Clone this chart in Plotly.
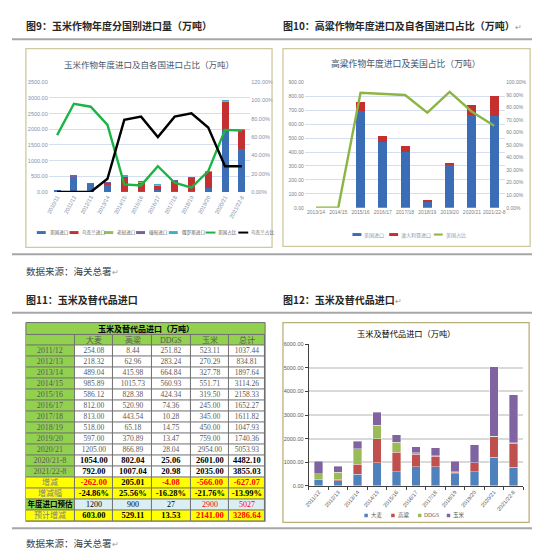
import plotly.graph_objects as go

W, H = 540, 550

# ---------------- 图9 玉米分国别进口 ----------------
corn_years = ["2010/11", "2011/12", "2012/13", "2013/14", "2014/15", "2015/16",
              "2016/17", "2017/18", "2018/19", "2019/20", "2020/21", "2021/22-8"]
us_corn = [53, 500, 260, 221, 32, 20, 70, 30, 25, 140, 2000, 1370]
ukr_corn = [0, 0, 0, 60, 460, 290, 140, 320, 420, 500, 890, 600]
laos_corn = [0, 3, 2, 10, 5, 3, 25, 5, 5, 8, 10, 5]
myanmar_corn = [0, 2, 2, 4, 5, 3, 5, 3, 3, 3, 5, 4]
russia_corn = [0, 0, 0, 0, 4, 0, 2, 0, 0, 3, 5, 3]
us_corn_share = [0.622, 0.965, 0.932, 0.734, 0.083, 0.072, 0.282, 0.101, 0.047, 0.228, 0.679, 0.672]
ukr_corn_share = [0, 0, 0, 0.145, 0.788, 0.824, 0.60, 0.824, 0.86, 0.705, 0.282, 0.282]

# ---------------- 图10 高粱 ----------------
sorghum_years = ["2013/14", "2014/15", "2015/16", "2016/17", "2017/18",
                 "2018/19", "2019/20", "2020/21", "2021/22-8"]
us_sorghum = [0, 0, 695, 470, 400, 47, 312, 663, 658]
aus_sorghum = [0, 0, 62, 47, 42, 9, 8, 75, 141]
us_sorghum_share = [0, 0, 0.916, 0.905, 0.898, 0.757, 0.924, 0.765, 0.653]

# ---------------- 图11/12 玉米及替代品 ----------------
sub_years = ["2011/12", "2012/13", "2013/14", "2014/15", "2015/16", "2016/17",
             "2017/18", "2018/19", "2019/20", "2020/21", "2020/21-8", "2021/22-8"]
barley = [254.08, 218.32, 489.04, 985.89, 586.12, 812.00, 813.00, 518.00, 597.00, 1205.00, 1054.00, 792.00]
sorghum = [8.44, 62.96, 415.98, 1015.73, 828.38, 520.90, 443.54, 65.18, 370.89, 866.89, 802.04, 1007.04]
ddgs = [251.82, 283.24, 664.84, 560.93, 424.34, 74.36, 10.28, 14.75, 13.47, 28.04, 25.06, 20.98]
corn = [523.11, 270.29, 327.78, 551.71, 319.50, 245.00, 345.00, 450.00, 759.00, 2954.00, 2601.00, 2035.00]
total = [1037.44, 834.81, 1897.64, 3114.26, 2158.33, 1652.27, 1611.82, 1047.93, 1740.36, 5053.93, 4482.10, 3855.03]
change_abs = [-262.00, 205.01, -4.08, -566.00, -627.07]
change_pct = [-24.86, 25.56, -16.28, -21.76, -13.99]
forecast = [1200, 900, 27, 2900, 5027]
forecast_change = [603.00, 529.11, 13.53, 2141.00, 3286.64]
extra_rows = ["增减", "增减幅", "年度进口预估", "预计增减"]
col_names = ["大麦", "高粱", "DDGS", "玉米", "总计"]


def px(x):
    return x / W


def py(y):
    return 1 - y / H


CJK = "Noto Sans CJK SC"
TICK = "Liberation Sans Narrow, Liberation Sans, " + CJK
SERIF = "Liberation Serif, " + CJK

fig = go.Figure()

# ---- chart 1 bars + lines
c1 = [("美国进口", us_corn, "#3d6fb6"), ("乌克兰进口", ukr_corn, "#c4302f"),
      ("老挝进口", laos_corn, "#9bbb59"), ("缅甸进口", myanmar_corn, "#7a5ea3"),
      ("俄罗斯进口", russia_corn, "#3fb0cc")]
for name, vals, col in c1:
    fig.add_trace(go.Bar(x=corn_years, y=vals, name=name, marker_color=col,
                         marker_line_width=0, width=0.42, xaxis="x", yaxis="y"))
fig.add_trace(go.Scatter(x=corn_years, y=us_corn_share, name="美国占比", mode="lines",
                         line=dict(color="#1db446", width=2.4), xaxis="x", yaxis="y2"))
fig.add_trace(go.Scatter(x=corn_years, y=ukr_corn_share, name="乌克兰占比", mode="lines",
                         line=dict(color="#000000", width=2.4), xaxis="x", yaxis="y2"))

# ---- chart 2
fig.add_trace(go.Bar(x=sorghum_years, y=us_sorghum, name="美国进口", marker_color="#3a6db5",
                     marker_line_width=0, width=0.4, xaxis="x3", yaxis="y3"))
fig.add_trace(go.Bar(x=sorghum_years, y=aus_sorghum, name="澳大利亚进口", marker_color="#c4302f",
                     marker_line_width=0, width=0.4, xaxis="x3", yaxis="y3"))
fig.add_trace(go.Scatter(x=sorghum_years, y=us_sorghum_share, name="美国占比", mode="lines",
                         line=dict(color="#8db543", width=2.4), xaxis="x3", yaxis="y4"))

# ---- chart 4 (stacked, skip 2020/21-8 row)
idx = [0, 1, 2, 3, 4, 5, 6, 7, 8, 9, 11]
c4_x = [sub_years[i] for i in idx]
for name, vals, col in [("大麦", barley, "#4f81bd"), ("高粱", sorghum, "#c0504d"),
                        ("DDGS", ddgs, "#9bbb59"), ("玉米", corn, "#8064a2")]:
    fig.add_trace(go.Bar(x=c4_x, y=[vals[i] for i in idx], name=name, marker_color=col,
                         marker_line=dict(color="rgba(255,255,255,0.6)", width=0.6),
                         width=0.45, xaxis="x5", yaxis="y5"))


# ---- table 11, drawn as a heatmap grid (gaps show the grey rule lines)
def cell(s, color="#595959", bold=False, size=7.5):
    t = "<span style='color:%s;font-size:%spx'>%s</span>" % (color, size, s)
    return "<b>%s</b>" % t if bold else t


WHITE, GREEN, YELLOW, BLUE = 0, 1, 2, 3
z = [[GREEN] * 6]
txt = [[""] + [cell(c, size=8) for c in col_names]]
cols_vals = [barley, sorghum, ddgs, corn, total]
for i, yr in enumerate(sub_years):
    bold = i >= 10
    row = [cell(yr, size=8)]
    for vals in cols_vals:
        row.append(cell("%.2f" % vals[i], "#000000" if bold else "#595959", bold,
                        8.5 if bold else 7.5))
    txt.append(row)
    z.append([GREEN] + [WHITE] * 5)
# 增减
txt.append([cell(extra_rows[0], "#7f7f7f", size=8)] +
           [cell("%.2f" % v, "#ff0000" if v < 0 else "#000000", True, 8.5) for v in change_abs])
z.append([YELLOW] * 6)
# 增减幅
txt.append([cell(extra_rows[1], "#7f7f7f", size=8)] +
           [cell("%.2f%%" % v, "#000000", True, 8.5) for v in change_pct])
z.append([YELLOW] * 6)
# 年度进口预估
txt.append([cell(extra_rows[2], "#000000", True, 7.5)] +
           [cell(str(v), "#ff0000" if j >= 3 else "#000000", False, 8)
            for j, v in enumerate(forecast)])
z.append([GREEN] + [BLUE] * 5)
# 预计增减
txt.append([cell(extra_rows[3], "#7f7f7f", size=8)] +
           [cell("%.2f" % v, "#ff0000" if j >= 3 else "#000000", True, 8.5)
            for j, v in enumerate(forecast_change)])
z.append([YELLOW] * 6)

col_edges = [0, 49, 88, 127, 166, 205, 241]
row_edges = list(range(len(z) + 1))
fig.add_trace(go.Heatmap(
    x=col_edges, y=row_edges, z=z, text=txt, texttemplate="%{text}",
    textfont=dict(family=SERIF, size=7.5, color="#595959"),
    colorscale=[[0, "#ffffff"], [0.25, "#ffffff"], [0.25, "#92d050"], [0.5, "#92d050"],
                [0.5, "#ffff00"], [0.75, "#ffff00"], [0.75, "#daeef3"], [1, "#daeef3"]],
    zmin=-0.5, zmax=3.5, showscale=False, xgap=1, ygap=1, hoverinfo="skip",
    xaxis="x6", yaxis="y6"))

tick_c1 = dict(family=TICK, size=5.5, color="#7f8fab")
tick_c2 = dict(family=TICK, size=5, color="#7f7f7f")
tick_c4 = dict(family=TICK, size=5.5, color="#595959")

fig.update_layout(
    width=W, height=H, margin=dict(l=0, r=0, t=0, b=0),
    paper_bgcolor="white", plot_bgcolor="rgba(0,0,0,0)",
    barmode="stack", showlegend=False,
    font=dict(family=CJK),
    xaxis=dict(domain=[px(37), px(240)], anchor="y", type="category", tickangle=-62,
               tickfont=tick_c1, showgrid=False, showline=False, ticks=""),
    yaxis=dict(domain=[py(183), py(72)], anchor="x", range=[0, 3500], dtick=500,
               tickformat=".2f", tickfont=tick_c1, gridcolor="#d6dfef", gridwidth=1,
               zeroline=False, showline=False),
    yaxis2=dict(overlaying="y", anchor="x", side="right", range=[0, 1.2], dtick=0.2,
                tickformat=".2%", tickfont=tick_c1, showgrid=False, zeroline=False),
    xaxis3=dict(domain=[px(295), px(497)], anchor="y3", type="category", tickangle=0,
                tickfont=tick_c2, showgrid=False, showline=False, ticks=""),
    yaxis3=dict(domain=[py(199), py(72)], anchor="x3", range=[0, 900], dtick=100,
                tickformat=".2f", tickfont=tick_c2, gridcolor="#d6dfef", gridwidth=1,
                zeroline=False, showline=False),
    yaxis4=dict(overlaying="y3", anchor="x3", side="right", range=[0, 1.0], dtick=0.1,
                tickformat=".2%", tickfont=tick_c2, showgrid=False, zeroline=False),
    xaxis5=dict(domain=[px(299), px(515)], anchor="y5", type="category", tickangle=-50,
                tickfont=tick_c4, showgrid=False, showline=True, linecolor="#404040",
                linewidth=1.3, ticks="outside", ticklen=3, tickcolor="#404040",
                tickson="boundaries"),
    yaxis5=dict(domain=[py(480), py(337)], anchor="x5", range=[0, 6000], dtick=1000,
                tickformat=".2f", tickfont=tick_c4, gridcolor="#d9d9d9", gridwidth=1.6,
                zeroline=False, showline=True, linecolor="#404040", linewidth=1.3,
                ticks="outside", ticklen=3, tickcolor="#404040"),
    xaxis6=dict(domain=[px(14), px(255)], anchor="y6", range=[0, 241], visible=False,
                fixedrange=True),
    yaxis6=dict(domain=[py(516), py(327)], anchor="x6", range=[len(z), 0], visible=False,
                fixedrange=True),
)

shapes = []
ann = []

# grey rule lines behind the table grid
shapes.append(dict(type="rect", xref="paper", yref="paper", x0=px(13.5), x1=px(255.5),
                   y0=py(516.5), y1=py(327), fillcolor="#6f6f6f", line=dict(width=0),
                   layer="below"))
# separators
for y in [28.5, 246, 305, 523]:
    shapes.append(dict(type="line", xref="paper", yref="paper", x0=0, x1=1,
                       y0=py(y), y1=py(y), line=dict(color="#a6a6a6", width=2)))
# chart frames
for (x0, y0, x1, y1, c) in [(14, 38, 262, 239, "#cfc8a0"), (273, 38, 522, 238, "#cfc8a0"),
                            (273, 315, 521, 517, "#bcb07a")]:
    shapes.append(dict(type="rect", xref="paper", yref="paper", x0=px(x0), x1=px(x1),
                       y0=py(y1), y1=py(y0), line=dict(color=c, width=1.3)))
# table title row
shapes.append(dict(type="rect", xref="paper", yref="paper", x0=px(14), x1=px(255),
                   y0=py(327), y1=py(315), fillcolor="#92d050",
                   line=dict(color="#6f6f6f", width=1)))

RET = "<span style='color:#9a9a9a;font-size:8px'>↵</span>"


def text(x, y, s, size, color="#262626", anchor="left", family=CJK):
    ann.append(dict(xref="paper", yref="paper", x=px(x), y=py(y), text=s, showarrow=False,
                    xanchor=anchor, yanchor="middle",
                    font=dict(family=family, size=size, color=color)))


text(12, 15, "<b>图9：玉米作物年度分国别进口量（万吨）</b>", 10)
text(271, 15, "<b>图10：高粱作物年度进口及自各国进口占比（万吨）</b>" + RET, 10)
text(12, 263, "数据来源：海关总署" + RET, 9.5, "#404040")
text(12, 292, "<b>图11：玉米及替代品进口</b>", 10)
text(271, 292, "<b>图12：玉米及替代品进口</b>" + RET, 10)
text(12, 537.5, "数据来源：海关总署" + RET, 9.5, "#404040")
text(524, 241, RET, 8)
text(523, 515, RET, 8)

text(138, 54, "玉米作物年度进口及自各国进口占比（万吨）", 8.5, "#44546a", "center")
text(397, 53, "高粱作物年度进口及美国占比（万吨）", 8.8, "#44546a", "center")
text(397, 327, "玉米及替代品进口（万吨）", 8.2, "#000000", "center", SERIF)
text(134.5, 321.5, "<b>玉米及替代品进口（万吨）</b>", 8, "#000000", "center", SERIF)

# legends
lg1 = [(25, "bar", "#3d6fb6", "美国进口"), (58, "bar", "#c4302f", "乌克兰进口"),
       (93, "bar", "#9bbb59", "老挝进口"), (125, "bar", "#7a5ea3", "缅甸进口"),
       (158, "bar", "#3fb0cc", "俄罗斯进口"), (195, "line", "#1db446", "美国占比"),
       (228, "line", "#000000", "乌克兰占比")]
for x, kind, col, name in lg1:
    if kind == "bar":
        shapes.append(dict(type="rect", xref="paper", yref="paper", x0=px(x), x1=px(x + 9),
                           y0=py(225.5), y1=py(222.5), fillcolor=col, line=dict(width=0)))
    else:
        shapes.append(dict(type="line", xref="paper", yref="paper", x0=px(x), x1=px(x + 10),
                           y0=py(224), y1=py(224), line=dict(color=col, width=2)))
    text(x + 11, 224, name, 4.6, "#595959")

lg2 = [(343, "bar", "#3a6db5", "美国进口"), (380, "bar", "#c4302f", "澳大利亚进口"),
       (425, "line", "#8db543", "美国占比")]
for x, kind, col, name in lg2:
    if kind == "bar":
        shapes.append(dict(type="rect", xref="paper", yref="paper", x0=px(x), x1=px(x + 9),
                           y0=py(227.5), y1=py(224.5), fillcolor=col, line=dict(width=0)))
    else:
        shapes.append(dict(type="line", xref="paper", yref="paper", x0=px(x), x1=px(x + 9),
                           y0=py(226), y1=py(226), line=dict(color=col, width=2)))
    text(x + 10, 226, name, 5, "#8497b0")

lg4 = [(355, "#4f81bd", "大麦"), (382, "#c0504d", "高粱"), (409, "#9bbb59", "DDGS"),
       (438, "#8064a2", "玉米")]
for x, col, name in lg4:
    shapes.append(dict(type="rect", xref="paper", yref="paper", x0=px(x), x1=px(x + 3.5),
                       y0=py(511.8), y1=py(508.3), fillcolor=col, line=dict(width=0)))
    text(x + 4.5, 510, name, 5.5, "#595959", family=SERIF)

fig.update_layout(shapes=shapes, annotations=ann)

fig.write_html("out.html")
